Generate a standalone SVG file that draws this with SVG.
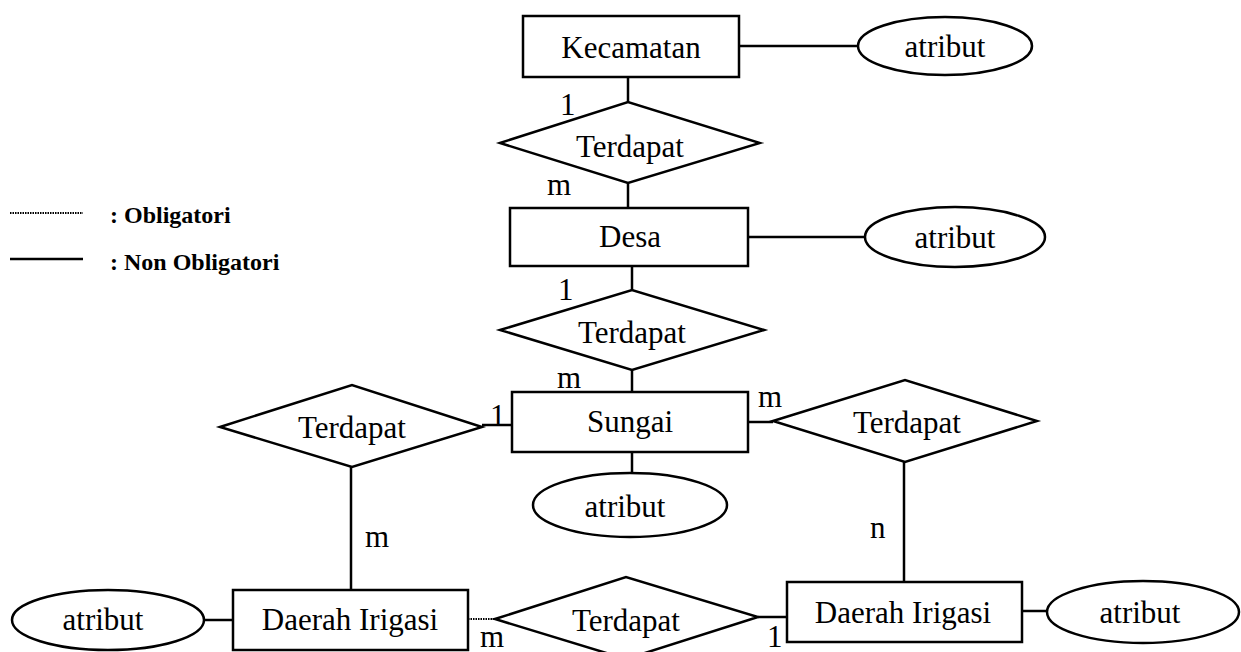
<svg xmlns="http://www.w3.org/2000/svg" width="1241" height="652" viewBox="0 0 1241 652">
<style>
.s{fill:#fff;stroke:#000;stroke-width:2.5}
.c{stroke:#000;stroke-width:2.5;fill:none}
.d{stroke:#000;stroke-width:2;fill:none;stroke-dasharray:1.5 1}
text{font-family:"Liberation Serif","Times New Roman",serif;font-size:31px;fill:#000}
.m{text-anchor:middle}
.l{font-size:24px;font-weight:bold}
</style>
<rect width="1241" height="652" fill="#fff"/>
<g id="legend">
<line class="d" x1="10" y1="213" x2="83" y2="213"/>
<text class="l" x="110" y="223">: Obligatori</text>
<line class="c" x1="10" y1="259" x2="83" y2="259"/>
<text class="l" x="110" y="270">: Non Obligatori</text>
</g>
<g id="connectors">
<line class="c" x1="739" y1="46" x2="858" y2="46"/>
<line class="c" x1="628" y1="77" x2="628" y2="102"/>
<line class="c" x1="628" y1="183" x2="628" y2="208"/>
<line class="c" x1="748" y1="237" x2="865" y2="237"/>
<line class="c" x1="632" y1="266" x2="632" y2="290"/>
<line class="c" x1="632" y1="370" x2="632" y2="392"/>
<line class="c" x1="482" y1="425" x2="512" y2="425"/>
<line class="c" x1="351" y1="467" x2="351" y2="590"/>
<line class="c" x1="747" y1="422" x2="773" y2="422"/>
<line class="c" x1="904" y1="462" x2="904" y2="582"/>
<line class="c" x1="632" y1="452" x2="632" y2="473"/>
<line class="c" x1="203" y1="620" x2="233" y2="620"/>
<line class="d" x1="468" y1="619" x2="495" y2="619"/>
<line class="c" x1="758" y1="617" x2="787" y2="617"/>
<line class="c" x1="1022" y1="611" x2="1047" y2="611"/>
<text x="560" y="115">1</text>
<text x="547" y="195">m</text>
<text x="558" y="300">1</text>
<text x="557" y="388">m</text>
<text x="490" y="426">1</text>
<text x="758" y="407">m</text>
<text x="365" y="547">m</text>
<text x="870" y="538">n</text>
<text x="480" y="647">m</text>
<text x="767" y="647">1</text>
</g>
<g id="kecamatan">
<rect class="s" x="523" y="16" width="216" height="61"/>
<text class="m" x="631" y="58">Kecamatan</text>
</g>
<g id="attr-kecamatan">
<ellipse class="s" cx="945" cy="46" rx="87" ry="29"/>
<text class="m" x="945" y="57">atribut</text>
</g>
<g id="rel-1">
<polygon class="s" points="500,143 628,102 760,143 628,183"/>
<text class="m" x="630" y="157">Terdapat</text>
</g>
<g id="desa">
<rect class="s" x="510" y="208" width="238" height="58"/>
<text class="m" x="630" y="247">Desa</text>
</g>
<g id="attr-desa">
<ellipse class="s" cx="955" cy="237" rx="90" ry="30"/>
<text class="m" x="955" y="248">atribut</text>
</g>
<g id="rel-2">
<polygon class="s" points="500,330 632,290 764,330 632,370"/>
<text class="m" x="632" y="343">Terdapat</text>
</g>
<g id="sungai">
<rect class="s" x="512" y="392" width="236" height="60"/>
<text class="m" x="630" y="432">Sungai</text>
</g>
<g id="attr-sungai">
<ellipse class="s" cx="630" cy="505" rx="97" ry="32"/>
<text class="m" x="625" y="517">atribut</text>
</g>
<g id="rel-left">
<polygon class="s" points="220,427 352,385 482,427 352,467"/>
<text class="m" x="352" y="438">Terdapat</text>
</g>
<g id="rel-right">
<polygon class="s" points="773,421 905,380 1037,421 905,462"/>
<text class="m" x="907" y="433">Terdapat</text>
</g>
<g id="daerah-irigasi-left">
<rect class="s" x="233" y="590" width="235" height="60"/>
<text class="m" x="350" y="630">Daerah Irigasi</text>
</g>
<g id="attr-di-left">
<ellipse class="s" cx="108" cy="620" rx="96" ry="30"/>
<text class="m" x="103" y="630">atribut</text>
</g>
<g id="rel-bottom">
<polygon class="s" points="495,619 626,577 758,617 626,659"/>
<text class="m" x="626" y="631">Terdapat</text>
</g>
<g id="daerah-irigasi-right">
<rect class="s" x="787" y="582" width="235" height="60"/>
<text class="m" x="903" y="623">Daerah Irigasi</text>
</g>
<g id="attr-di-right">
<ellipse class="s" cx="1143" cy="612" rx="96" ry="31"/>
<text class="m" x="1140" y="623">atribut</text>
</g>
</svg>
